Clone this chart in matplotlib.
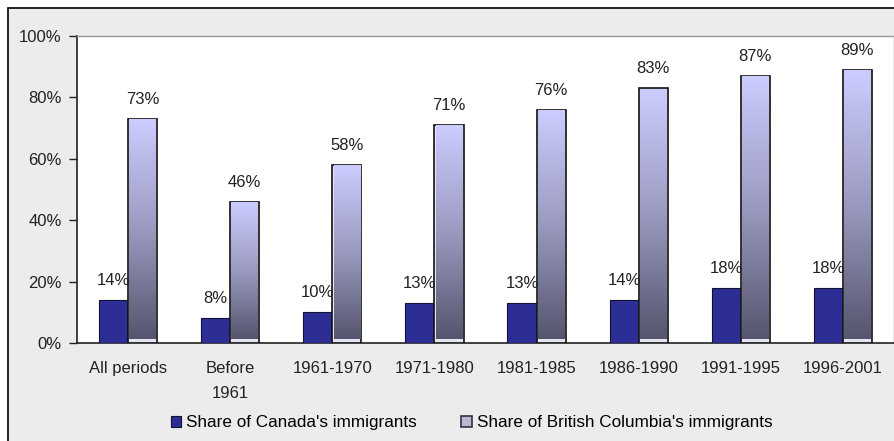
import matplotlib
matplotlib.use("Agg")
import matplotlib.pyplot as plt
import numpy as np
from matplotlib.colors import LinearSegmentedColormap
from matplotlib.patches import Rectangle
from matplotlib.ticker import PercentFormatter

# Datos
periodos = ["All periods", "Before\n1961", "1961-1970", "1971-1980",
            "1981-1985", "1986-1990", "1991-1995", "1996-2001"]
canada = [14, 8, 10, 13, 13, 14, 18, 18]
bc = [73, 46, 58, 71, 76, 83, 87, 89]
serie_canada = "Share of Canada's immigrants"
serie_bc = "Share of British Columbia's immigrants"

AZUL = "#2d2d96"
FONDO = "#ececec"
grad = LinearSegmentedColormap.from_list("bc", ["#55556e", "#9a9ac0", "#ccccff"])

plt.rcParams["font.family"] = ["Liberation Sans", "DejaVu Sans"]
plt.rcParams["font.size"] = 12

fig = plt.figure(figsize=(8.95, 4.41), dpi=100)
fig.patch.set_facecolor("white")

# marco exterior gris con borde negro (solo arriba e izquierda visibles)
fig.patches.append(Rectangle((8 / 895, -0.05), 1.1, 0.05 + (441 - 8) / 441,
                             transform=fig.transFigure, facecolor=FONDO,
                             edgecolor="black", linewidth=1.2, zorder=-5))

ax = fig.add_axes([77 / 895, 98 / 441, 817 / 895, 307 / 441])
ax.set_facecolor("white")

x = np.arange(len(periodos))
w = 0.285

ax.bar(x - w / 2, canada, width=w, color=AZUL, edgecolor="#111133",
       linewidth=0.8, zorder=3)

# barras BC: contorno + relleno en degradado
gradiente = np.linspace(0, 1, 256).reshape(-1, 1)
for xi, v in zip(x, bc):
    ax.bar(xi + w / 2, v, width=w, color="#e4e4f4", edgecolor="#111111",
           linewidth=1.2, zorder=3)
    ax.imshow(gradiente, cmap=grad, origin="lower", aspect="auto",
              extent=(xi + 0.012, xi + w - 0.012, 1.3, v - 0.3), zorder=4)

for xi, v in zip(x, canada):
    ax.annotate(f"{v}%", (xi - w / 2, v), xytext=(0, 14), textcoords="offset points",
                ha="center", va="center", color="#222222", zorder=5)
for xi, v in zip(x, bc):
    ax.annotate(f"{v}%", (xi + w / 2, v), xytext=(0, 14), textcoords="offset points",
                ha="center", va="center", color="#222222", zorder=5)

ax.set_xlim(-0.5, len(periodos) - 0.5)
ax.set_ylim(0, 100)
ax.set_yticks([0, 20, 40, 60, 80, 100])
ax.yaxis.set_major_formatter(PercentFormatter(decimals=0))
ax.set_xticks(x)
ax.set_xticklabels(periodos, linespacing=1.85)
ax.tick_params(axis="x", length=0, pad=13, colors="#222222")
ax.tick_params(axis="y", length=6, width=1, pad=5, colors="#222222")

for s in ("left", "bottom"):
    ax.spines[s].set_color("#222222")
    ax.spines[s].set_linewidth(1.2)
for s in ("top", "right"):
    ax.spines[s].set_color("#999999")
    ax.spines[s].set_linewidth(1)

h1 = Rectangle((0, 0), 1, 1, facecolor=AZUL, edgecolor="#111133", linewidth=0.8)
h2 = Rectangle((0, 0), 1, 1, facecolor="#b8b8d0", edgecolor="#333344", linewidth=1.2)
fig.legend([h1, h2], [serie_canada, serie_bc], loc="center", ncol=2,
           bbox_to_anchor=(0.527, 0.041), frameon=False, fontsize=12.3,
           handlelength=0.6, handleheight=0.6, handletextpad=0.3,
           columnspacing=2.6)

fig.savefig("out.png", dpi=100)
